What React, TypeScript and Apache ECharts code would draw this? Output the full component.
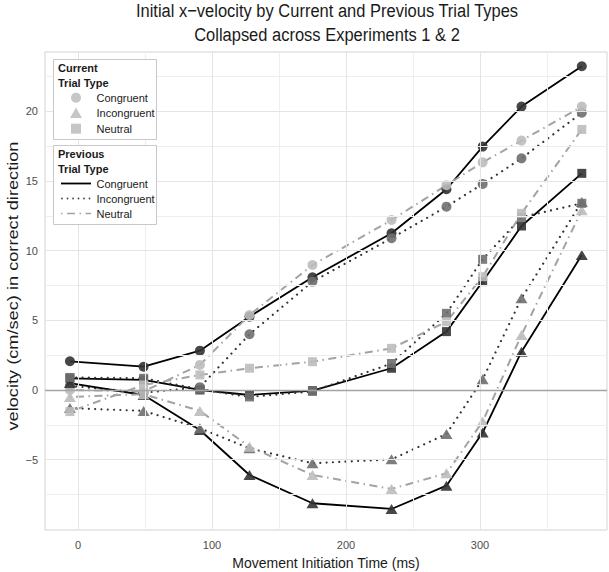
import React, { useEffect, useRef } from "react";
import * as echarts from "echarts";

// Movement initiation time bins (ms)
const binTimes = [-6, 49, 91, 128, 175, 234, 275, 302, 331, 376];

// velocity (cm/sec) — current trial type x previous trial type
const circleCongruent = [2.06, 1.67, 2.82, 5.26, 8.09, 11.25, 14.41, 17.47, 20.34, 23.24];
const circleIncongruent = [0.3, -0.2, 0.2, 4.0, 7.78, 10.9, 13.16, 14.79, 16.63, 19.9];
const circleNeutral = [0.0, -0.1, 1.8, 5.38, 8.97, 12.2, 14.7, 16.34, 17.9, 20.34];
const triangleCongruent = [0.5, -0.36, -2.87, -6.1, -8.13, -8.54, -6.87, -3.06, 2.75, 9.69];
const triangleIncongruent = [-1.3, -1.5, -2.75, -4.19, -5.26, -4.98, -3.16, 0.77, 6.58, 13.5];
const triangleNeutral = [-0.5, -0.3, -1.5, -4.07, -6.1, -7.1, -5.98, -2.27, 3.95, 12.9];
const squareCongruent = [0.84, 0.72, 0.0, -0.36, -0.05, 1.56, 4.19, 7.78, 11.77, 15.55];
const squareIncongruent = [0.9, 0.84, 0.05, -0.5, -0.1, 1.9, 5.5, 9.38, 12.4, 13.4];
const squareNeutral = [-1.55, 0.36, 1.08, 1.56, 2.03, 2.99, 4.9, 8.13, 12.68, 18.7];

const xTickLabels = [0, 100, 200, 300];
const xMinorBreaks = [50, 150, 250, 350];
const yTickLabels = [-5, 0, 5, 10, 15, 20];
const yMinorBreaks = [-7.5, -2.5, 2.5, 7.5, 12.5, 17.5, 22.5];

const currentTypes = ["Congruent", "Incongruent", "Neutral"];
const previousTypes = ["Congruent", "Incongruent", "Neutral"];

const FONT = "'Liberation Sans', Arial, Helvetica, sans-serif";
const TICK_TEXT = "#4d4d4d";

const symbolByCurrent: Record<string, string> = {
  Congruent: "circle",
  Incongruent: "triangle",
  Neutral: "rect",
};
const symbolSizeByCurrent: Record<string, any> = {
  Congruent: 10,
  Incongruent: [12, 10],
  Neutral: 9,
};
const pointColorByPrevious: Record<string, string> = {
  Congruent: "#333333",
  Incongruent: "#6f6f6f",
  Neutral: "#bdbdbd",
};
const lineStyleByPrevious: Record<string, any> = {
  Congruent: { color: "#000000", width: 1.8, type: "solid" },
  Incongruent: { color: "#333333", width: 2.2, type: [0.01, 6.3], cap: "round" },
  Neutral: { color: "#a3a3a3", width: 2, type: [1.5, 4.5, 8, 4.5] },
};

const seriesValues: Record<string, Record<string, number[]>> = {
  Congruent: { Congruent: circleCongruent, Incongruent: circleIncongruent, Neutral: circleNeutral },
  Incongruent: { Congruent: triangleCongruent, Incongruent: triangleIncongruent, Neutral: triangleNeutral },
  Neutral: { Congruent: squareCongruent, Incongruent: squareIncongruent, Neutral: squareNeutral },
};

const minus = (v: number | string) => String(v).replace("-", "\u2212");

export default function App() {
  const ref = useRef<HTMLDivElement>(null);
  useEffect(() => {
    if (!ref.current) return;
    const chart = echarts.init(ref.current, undefined, { renderer: "svg" });

    const gridLineData: any[] = [];
    xMinorBreaks.forEach((v) => gridLineData.push({ xAxis: v, lineStyle: { color: "#eeeeee", width: 1, type: "solid" } }));
    yMinorBreaks.forEach((v) => gridLineData.push({ yAxis: v, lineStyle: { color: "#eeeeee", width: 1, type: "solid" } }));
    xTickLabels.forEach((v) => gridLineData.push({ xAxis: v, lineStyle: { color: "#e4e4e4", width: 1, type: "solid" } }));
    yTickLabels.forEach((v) => gridLineData.push({ yAxis: v, lineStyle: { color: "#e4e4e4", width: 1, type: "solid" } }));

    const series: any[] = [
      {
        type: "line",
        data: [],
        silent: true,
        z: 0,
        markLine: {
          silent: true,
          symbol: ["none", "none"],
          label: { show: false },
          animation: false,
          data: gridLineData,
        },
      },
      {
        type: "line",
        data: [],
        silent: true,
        z: 1,
        markLine: {
          silent: true,
          symbol: ["none", "none"],
          label: { show: false },
          animation: false,
          data: [{ yAxis: 0, lineStyle: { color: "#a3a3a3", width: 1.3, type: "solid" } }],
        },
      },
    ];

    currentTypes.forEach((cur) => {
      previousTypes.forEach((prev) => {
        const vals = seriesValues[cur][prev];
        const data = binTimes.map((t, i) => [t, vals[i]]);
        series.push({
          type: "line",
          name: `${cur}-${prev}-line`,
          data,
          showSymbol: false,
          symbol: "none",
          lineStyle: lineStyleByPrevious[prev],
          z: 2,
          silent: true,
        });
      });
    });
    currentTypes.forEach((cur) => {
      previousTypes.forEach((prev) => {
        const vals = seriesValues[cur][prev];
        const data = binTimes.map((t, i) => [t, vals[i]]);
        series.push({
          type: "scatter",
          name: `${cur}-${prev}`,
          data,
          symbol: symbolByCurrent[cur],
          symbolSize: symbolSizeByCurrent[cur],
          itemStyle: { color: pointColorByPrevious[prev], opacity: 0.9 },
          z: 3,
          silent: true,
        });
      });
    });

    const legendText = (text: string, x: number, y: number, bold = false) => ({
      type: "text",
      x,
      y,
      z: 12,
      style: {
        text,
        fill: "#1a1a1a",
        font: `${bold ? "bold " : ""}11px ${FONT}`,
        textAlign: "left",
        textVerticalAlign: "middle",
      },
    });

    const symFill = "#c6c6c6";
    const graphic: any[] = [
      {
        type: "text",
        x: 327,
        y: 11,
        scaleY: 1.1,
        style: {
          text: "Initial x\u2212velocity by Current and Previous Trial Types",
          fill: "#1a1a1a",
          font: `16.5px ${FONT}`,
          textAlign: "center",
          textVerticalAlign: "middle",
        },
      },
      {
        type: "text",
        x: 327,
        y: 35,
        scaleY: 1.1,
        style: {
          text: "Collapsed across Experiments 1 & 2",
          fill: "#1a1a1a",
          font: `16.5px ${FONT}`,
          textAlign: "center",
          textVerticalAlign: "middle",
        },
      },
      {
        type: "text",
        x: 326,
        y: 563,
        style: {
          text: "Movement Initiation Time (ms)",
          fill: "#1a1a1a",
          font: `14px ${FONT}`,
          textAlign: "center",
          textVerticalAlign: "middle",
        },
      },
      {
        type: "text",
        x: 13,
        y: 286,
        rotation: Math.PI / 2,
        scaleX: 1.3,
        style: {
          text: "velocity (cm/sec) in correct direction",
          fill: "#1a1a1a",
          font: `14px ${FONT}`,
          textAlign: "center",
          textVerticalAlign: "middle",
        },
      },
      // legend 1
      {
        type: "rect",
        z: 10,
        shape: { x: 53.5, y: 59.5, width: 103, height: 80 },
        style: { fill: "#ffffff", stroke: "#c8c8c8", lineWidth: 1 },
      },
      legendText("Current", 58, 67.5, true),
      legendText("Trial Type", 58, 83, true),
      { type: "circle", z: 12, shape: { cx: 76, cy: 97.7, r: 5 }, style: { fill: symFill } },
      {
        type: "polygon",
        z: 12,
        shape: { points: [[76, 107.5], [82, 118], [70, 118]] },
        style: { fill: symFill },
      },
      { type: "rect", z: 12, shape: { x: 71, y: 123.7, width: 10, height: 10 }, style: { fill: symFill } },
      legendText(currentTypes[0], 96.5, 98),
      legendText(currentTypes[1], 96.5, 113),
      legendText(currentTypes[2], 96.5, 128.7),
      // legend 2
      {
        type: "rect",
        z: 10,
        shape: { x: 53.5, y: 145.5, width: 103, height: 79 },
        style: { fill: "#ffffff", stroke: "#c8c8c8", lineWidth: 1 },
      },
      legendText("Previous", 58, 153.5, true),
      legendText("Trial Type", 58, 168.5, true),
      {
        type: "line",
        z: 12,
        shape: { x1: 61, y1: 183.5, x2: 91, y2: 183.5 },
        style: { stroke: "#000", lineWidth: 1.8 },
      },
      {
        type: "line",
        z: 12,
        shape: { x1: 62, y1: 198.5, x2: 91, y2: 198.5 },
        style: { stroke: "#444", lineWidth: 1.8, lineDash: [0.01, 5.5], lineCap: "round" },
      },
      {
        type: "line",
        z: 12,
        shape: { x1: 61, y1: 213.5, x2: 91, y2: 213.5 },
        style: { stroke: "#a3a3a3", lineWidth: 1.5, lineDash: [1.5, 4.5, 8, 4.5] },
      },
      legendText(previousTypes[0], 96.5, 183.5),
      legendText(previousTypes[1], 96.5, 198.5),
      legendText(previousTypes[2], 96.5, 213.5),
    ];

    const tickLabel = {
      color: TICK_TEXT,
      fontSize: 11,
      fontFamily: FONT,
      formatter: (v: number) => `{t|${minus(v)}}`,
      rich: { t: { color: TICK_TEXT, fontSize: 11, fontFamily: FONT } },
    };

    chart.setOption({
      animation: false,
      textStyle: { fontFamily: FONT, color: TICK_TEXT },
      grid: {
        left: 45,
        top: 52,
        right: 2,
        bottom: 42,
        show: true,
        borderColor: "#d3d3d3",
        borderWidth: 1,
        backgroundColor: "#ffffff",
      },
      xAxis: {
        type: "value",
        min: -24.6,
        max: 394.8,
        axisLine: { show: false, lineStyle: { color: TICK_TEXT } },
        splitLine: { show: false },
        axisTick: { show: true, customValues: xTickLabels, length: 4, lineStyle: { color: "#b3b3b3" } },
        axisLabel: { ...tickLabel, customValues: xTickLabels, margin: 9 },
      },
      yAxis: {
        type: "value",
        min: -10.05,
        max: 24.26,
        axisLine: { show: false, lineStyle: { color: TICK_TEXT } },
        splitLine: { show: false },
        axisTick: { show: true, customValues: yTickLabels, length: 4, lineStyle: { color: "#b3b3b3" } },
        axisLabel: { ...tickLabel, customValues: yTickLabels, margin: 7 },
      },
      series,
      graphic,
    });

    return () => chart.dispose();
  }, []);

  return (
    <div
      ref={ref}
      style={{ position: "fixed", left: 0, top: 0, width: 609, height: 572, background: "#fff" }}
    />
  );
}
